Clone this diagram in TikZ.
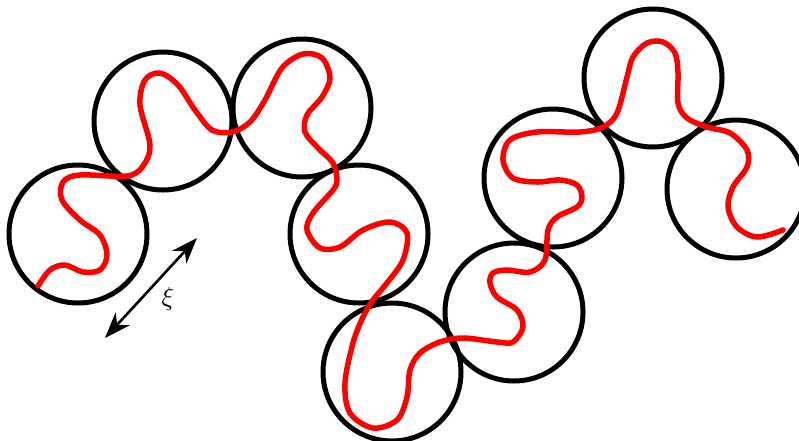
\documentclass[tikz,border=0pt]{standalone}
\usetikzlibrary{arrows.meta}
\begin{document}
\begin{tikzpicture}[x=1pt,y=-1pt,
  ball/.style={circle,draw=black,line width=5pt,minimum size=138pt,inner sep=0pt},
  chain/.style={draw=red,line width=5.5pt,line cap=round,line join=round},
  tip/.style={Stealth[length=26pt,width=19pt,inset=8pt]},
  dbl/.style={line width=2.6pt,{Stealth[length=26pt,width=19pt,inset=8pt]}-{Stealth[length=26pt,width=19pt,inset=8pt]}}]
\useasboundingbox (0,0) rectangle (799,440);
\begin{scope}
\clip (0,0) rectangle (799,440);
\node[ball] (c1) at (78,234) {};
\node[ball] (c2) at (163,121) {};
\node[ball] (c3) at (302,108) {};
\node[ball] (c4) at (359,234) {};
\node[ball] (c5) at (392,372) {};
\node[ball] (c6) at (514,312) {};
\node[ball] (c7) at (553,178) {};
\node[ball] (c8) at (653,78) {};
\node[ball] (c9) at (736,189) {};
\draw[chain] plot[smooth,tension=0.55] coordinates {
 (38,286) (50,270) (65,265) (83,272) (100,270) (107,255) (100,235) (80,220) (62,200) (63,182) (80,175) (127,176)
 (143,166) (150,145) (140,105) (145,80) (160,73) (178,85) (195,110) (212,130) (232,132) (250,122) (265,100) (282,68) (303,54) (322,58) (330,78) (322,97) (307,115) (305,132) (318,148) (333,163) (337,180)
 (333,190) (313,213) (307,230) (320,248) (340,247) (363,230) (390,222) (407,233) (403,260) (387,283) (373,300) (363,317) (353,343) (345,383) (350,413) (373,428) (397,420) (407,397) (410,370) (420,353) (440,342) (463,338)
 (497,342) (513,342) (523,327) (517,310) (497,297) (490,283) (493,273) (507,270) (530,272) (545,260) (548,230)
 (557,217) (577,207) (582,197) (577,185) (560,180) (537,182) (513,178) (503,160) (510,140) (537,132) (580,132) (603,127) (617,113) (627,77) (633,57) (647,43) (663,42) (675,53) (678,73) (678,103) (687,118) (707,127) (730,133) (747,150) (747,167) (733,187) (728,207) (737,227) (757,237) (783,230)};
\end{scope}
\coordinate (a1) at (105,338);
\coordinate (a2) at (197,238);
\draw[dbl] (a1) -- (a2);
\node[scale=2.6] (xi) at (168,299) {$\xi$};
\end{tikzpicture}
\end{document}
